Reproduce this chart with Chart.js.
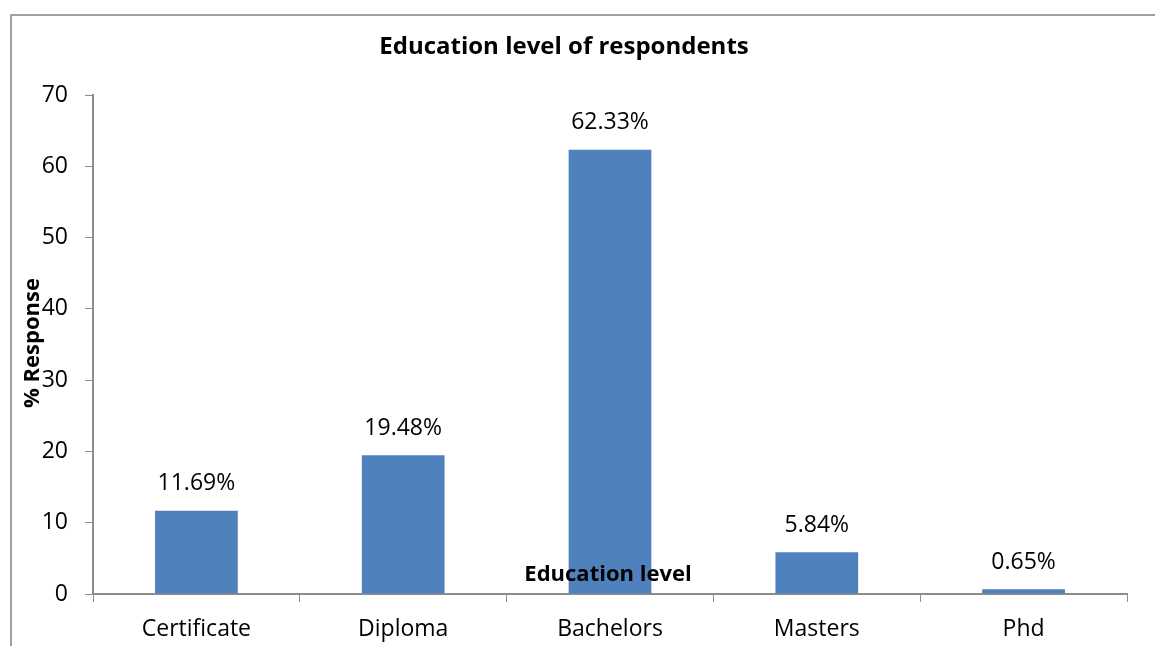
<!DOCTYPE html>
<html>
<head>
<meta charset="utf-8">
<script src="https://cdn.jsdelivr.net/npm/chart.js@4.4.1/dist/chart.umd.min.js"></script>
<style>
html,body{margin:0;padding:0;background:#fff;}
#wrap{position:relative;width:1155px;height:646px;}
</style>
</head>
<body>
<div id="wrap"><canvas id="c" width="1155" height="646"></canvas></div>
<script>
const categories = ["Certificate", "Diploma", "Bachelors", "Masters", "Phd"];
const values = [11.69, 19.48, 62.33, 5.84, 0.65];
const valueLabels = ["11.69%", "19.48%", "62.33%", "5.84%", "0.65%"];
const chartTitle = "Education level of respondents";
const xTitle = "Education level";
const yTitle = "% Response";

const FONT = "'Open Sans', 'Noto Sans', sans-serif";
const AXIS = "#8c8c8c";

const overlay = {
  id: 'overlay',
  afterDraw(chart) {
    const ctx = chart.ctx;
    ctx.save();
    // frame
    ctx.strokeStyle = "#a0a0a0";
    ctx.lineWidth = 2;
    ctx.beginPath();
    ctx.moveTo(11, 646);
    ctx.lineTo(11, 15);
    ctx.lineTo(1155, 15);
    ctx.stroke();
    // title
    ctx.fillStyle = "#000";
    ctx.textAlign = "center";
    ctx.textBaseline = "middle";
    ctx.font = "bold 24px " + FONT;
    ctx.fillText(chartTitle, 564, 47);
    // x title
    ctx.font = "bold 22px " + FONT;
    ctx.fillText(xTitle, 608, 575);
    // y title
    ctx.save();
    ctx.translate(33, 343);
    ctx.rotate(-Math.PI / 2);
    ctx.fillText(yTitle, 0, 0);
    ctx.restore();
    // data labels
    ctx.font = "23px " + FONT;
    const meta = chart.getDatasetMeta(0);
    meta.data.forEach((bar, i) => {
      ctx.fillText(valueLabels[i], bar.x, bar.y - 27);
    });
    ctx.restore();
  }
};

new Chart(document.getElementById('c'), {
  type: 'bar',
  data: {
    labels: categories,
    datasets: [{
      data: values,
      backgroundColor: "#4F81BD",
      borderWidth: 0,
      categoryPercentage: 0.8,
      barPercentage: 0.5
    }]
  },
  options: {
    responsive: false,
    animation: false,
    layout: { padding: { left: 20, right: 28, top: 95, bottom: 0 } },
    plugins: { legend: { display: false }, tooltip: { enabled: false }, title: { display: false } },
    scales: {
      x: {
        afterFit(s) { s.height = 52; },
        grid: { display: true, drawOnChartArea: false, drawTicks: true, tickLength: 8, color: AXIS, offset: true },
        border: { color: AXIS, width: 2 },
        ticks: { color: "#000", font: { family: FONT, size: 23 }, padding: 14 }
      },
      y: {
        min: 0, max: 70,
        afterFit(s) { s.width = 73; },
        grid: { display: true, drawOnChartArea: false, drawTicks: true, tickLength: 8, color: AXIS },
        border: { color: AXIS, width: 2 },
        ticks: { stepSize: 10, color: "#000", font: { family: FONT, size: 23 }, padding: 17 }
      }
    }
  },
  plugins: [overlay]
});
</script>
</body>
</html>
